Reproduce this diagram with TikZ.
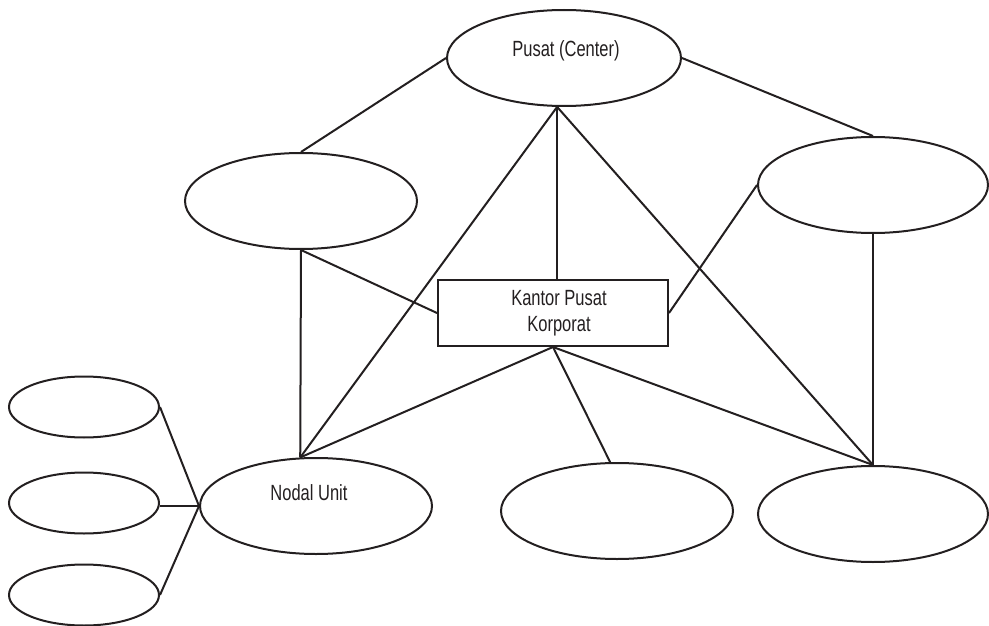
\documentclass[tikz,border=0pt]{standalone}
\usepackage{fontspec}
\setmainfont{Liberation Sans}[FakeStretch=0.75]
\usetikzlibrary{shapes.geometric}
\definecolor{ink}{HTML}{231F20}
\begin{document}
\begin{tikzpicture}[x=1pt,y=-1pt,
  unit/.style={ellipse, draw=ink, line width=2pt, minimum width=232pt, minimum height=96pt, inner sep=0pt},
  subunit/.style={ellipse, draw=ink, line width=2pt, minimum width=150pt, minimum height=61pt, inner sep=0pt},
  office/.style={rectangle, draw=ink, line width=2pt, minimum width=230pt, minimum height=66pt, inner sep=0pt},
  lbl/.style={text=ink, font=\fontsize{22}{26}\selectfont, align=center, inner sep=0pt},
  link/.style={draw=ink, line width=2pt}]
\useasboundingbox (0,0) rectangle (989,626);

% organisational units
\node[unit, minimum width=234pt] (pusat) at (564,58) {};
\node[unit] (left)  at (301,201) {};
\node[unit, minimum width=230pt] (right) at (873,185) {};
\node[office] (kantor) at (553,313) {};
\node[unit] (nodal) at (316,506) {};
\node[unit] (mid)   at (617,511) {};
\node[unit, minimum width=230pt] (lowright) at (873,514) {};

% sub-units of the nodal unit
\node[subunit] (s1) at (84,407) {};
\node[subunit] (s2) at (84,503) {};
\node[subunit] (s3) at (84,595) {};

% labels
\node[lbl, anchor=base] (pusatlbl) at (566,57) {Pusat (Center)};
\node[lbl] (kantorlbl) at (559,313) {Kantor Pusat\\Korporat};
\node[lbl, anchor=base] (nodallbl) at (309,500) {Nodal Unit};

% links
\coordinate (hub) at (pusat.262);
\draw[link] (pusat.west) -- (left.north);
\draw[link] (pusat.east) -- (right.north);
\draw[link] (hub) -- (hub |- kantor.north);
\draw[link] (hub) -- (nodal.108);
\draw[link] (hub) -- (lowright.north);
\draw[link] (left.south) -- (nodal.108);
\draw[link] (left.south) -- (kantor.west);
\draw[link] (right.west) -- (kantor.east);
\draw[link] (right.south) -- (lowright.north);
\draw[link] (kantor.south) -- (nodal.108);
\draw[link] (kantor.south) -- (mid.98);
\draw[link] (kantor.south) -- (lowright.north);
\draw[link] (s1.east) -- (nodal.west);
\draw[link] (nodal.west) -- (nodal.west -| s2.east);
\draw[link] (s3.east) -- (nodal.west);
\end{tikzpicture}
\end{document}
